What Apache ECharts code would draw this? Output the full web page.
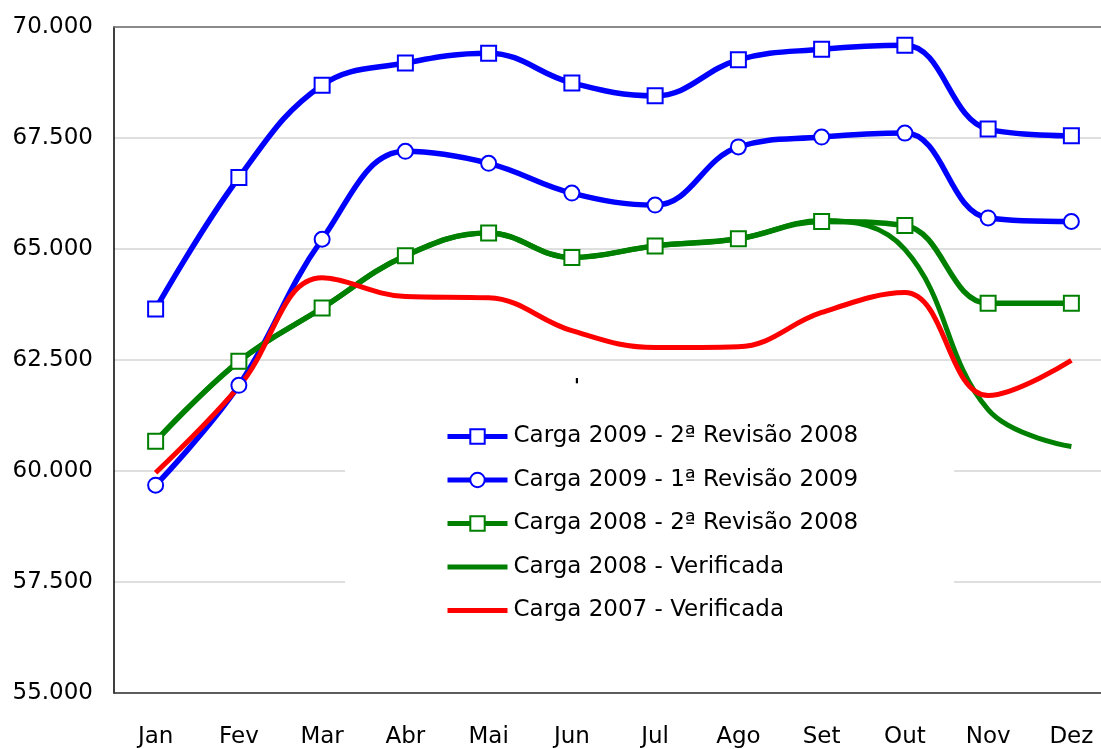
<!DOCTYPE html>
<html>
<head>
<meta charset="utf-8">
<script src="https://cdn.jsdelivr.net/npm/echarts@6/dist/echarts.min.js"></script>
<style>
html,body{margin:0;padding:0;background:#fff;overflow:hidden}
/* plot box runs past the right edge of the picture, so the canvas is wider than the window */
#divChart{width:1125px;height:749px}
</style>
</head>
<body>
<div id="divChart"></div>
<script>
// data (MW medio)
var meses = ['Jan','Fev','Mar','Abr','Mai','Jun','Jul','Ago','Set','Out','Nov','Dez']
var nomes = ['Carga 2009 - 2ª Revisão 2008','Carga 2009 - 1ª Revisão 2009','Carga 2008 - 2ª Revisão 2008','Carga 2008 - Verificada','Carga 2007 - Verificada']
var carga2009_rev2_2008 = [63650,66610,68690,69190,69410,68740,68450,69260,69500,69590,67700,67550]
var carga2009_rev1_2009 = [59680,61930,65220,67200,66930,66260,65990,67300,67520,67610,65700,65620]
var carga2008_rev2_2008 = [60670,62470,63670,64850,65360,64810,65070,65230,65620,65530,63780,63780]
var carga2008_verif     = [60670,62470,63670,64850,65360,64810,65070,65230,65640,64990,61380,60550]
var carga2007_verif     = [59960,61900,64350,63930,63900,63160,62780,62800,63570,64020,61700,62490]
var y_ticks = {min:55000, max:70000, step:2500}

var fmt_y = v => (v/1000).toFixed(3) // 70000 -> "70.000"
var FONT = '"DejaVu Sans", Verdana, sans-serif'
var LINE_ICON = 'path://M0,0 L60,0 L60,5 L0,5 Z' //plain thick line for series without markers

var mk_line = (name, data, color, opt={}) => Object.assign({
  name: name, type:'line', data: data,
  smooth: 0.4,
  symbol: 'none', showSymbol: false,
  lineStyle: {color: color, width: 5},
  itemStyle: {color: color},
  emphasis: {disabled: true},
  z: 2
}, opt)

var mk_marked = (name, data, color, sym) => mk_line(name, data, color, {
  symbol: sym, showSymbol: true, symbolSize: 15,
  lineStyle: {color: color, width: 5.5},
  itemStyle: {color: '#fff', borderColor: color, borderWidth: 2}
})

var series = [
  mk_marked(nomes[0], carga2009_rev2_2008, '#0000ff', 'rect'),
  mk_marked(nomes[1], carga2009_rev1_2009, '#0000ff', 'circle'),
  mk_marked(nomes[2], carga2008_rev2_2008, '#008000', 'rect'),
  mk_line(nomes[3], carga2008_verif, '#008000'),
  mk_line(nomes[4], carga2007_verif, '#ff0000')
]

var opt_o = {
  animation: false,
  backgroundColor: '#fff',
  textStyle: {fontFamily: FONT, color: '#000'},
  grid: {left:114, top:27, width:999, height:666, show:false},
  xAxis: [{
    type:'category', data: meses, boundaryGap:true,
    axisLine:{lineStyle:{color:'#333', width:1.5}},
    axisTick:{show:false},
    axisLabel:{fontSize:23, color:'#000', margin:33, fontFamily:FONT},
    splitLine:{show:false}
  },{
    //top edge of the plot box
    type:'category', data: meses, position:'top',
    axisLine:{lineStyle:{color:'#707070', width:1.5}},
    axisTick:{show:false}, axisLabel:{show:false}, splitLine:{show:false}
  }],
  yAxis: {
    type:'value', min:y_ticks.min, max:y_ticks.max, interval:y_ticks.step,
    axisLine:{show:true, lineStyle:{color:'#000', width:1.5}},
    axisTick:{show:false},
    axisLabel:{fontSize:23, color:'#000', margin:21, formatter: fmt_y, fontFamily:FONT},
    splitLine:{lineStyle:{color:'#d4d4d4', width:1.5}}
  },
  legend: {
    orient:'vertical', left:345, top:401,
    backgroundColor:'#fff',
    padding:[24, 96, 30, 100],
    itemWidth:60, itemHeight:18, itemGap:20.5,
    lineStyle:{width:5},
    textStyle:{fontSize:23, color:'#000', fontFamily:FONT, padding:[0,0,0,1]},
    data: nomes.map((n,i)=> i>=3 ? {name:n, icon:LINE_ICON} : n),
    z: 5
  },
  graphic: [
    {type:'text', left:574, top:378, style:{text:"'", fontSize:19, fontWeight:'bold', fill:'#000', fontFamily:FONT}, z:6}
  ],
  series: series
}

var dom = document.getElementById('divChart')
var inst = echarts.init(dom)
inst.setOption(opt_o, true)
</script>
</body>
</html>
